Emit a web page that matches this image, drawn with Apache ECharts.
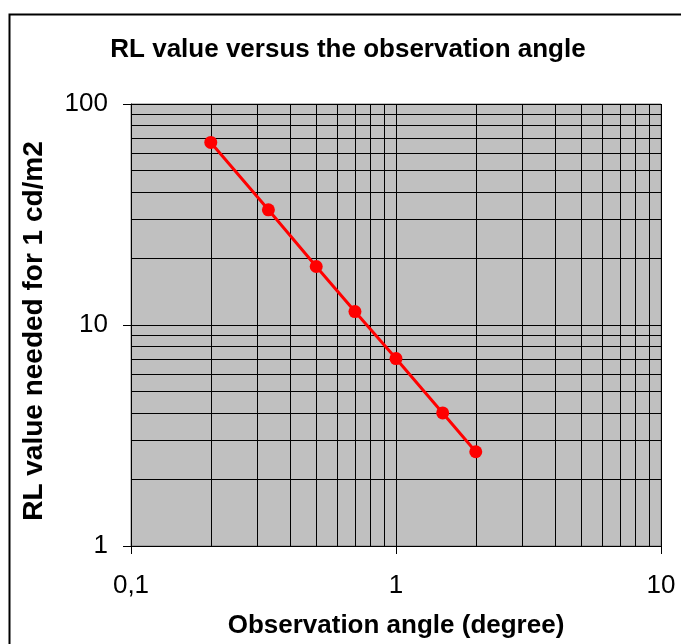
<!DOCTYPE html>
<html>
<head>
<meta charset="utf-8">
<script src="https://cdn.jsdelivr.net/npm/echarts@6/dist/echarts.min.js"></script>
<style>html,body{margin:0;padding:0;background:#fff}#c{width:681px;height:644px}</style>
</head>
<body>
<div id="c"></div>
<script>
// Data
var angles = [0.2, 0.33, 0.5, 0.7, 1, 1.5, 2];
var rlValues = [67, 33.2, 18.4, 11.5, 7.05, 4.0, 2.67];
var xTickLabels = {"-1": "0,1", "0": "1", "1": "10"};
var yTickLabels = {"0": "1", "1": "10", "2": "100"};
var xMinorGrid = [0.2, 0.3, 0.4, 0.5, 0.6, 0.7, 0.8, 0.9, 2, 3, 4, 5, 6, 7, 8, 9];
var yMinorGrid = [2, 3, 4, 5, 6, 7, 8, 9, 20, 30, 40, 50, 60, 70, 80, 90];

var FONT = "'Liberation Sans', Arial, sans-serif";
var chart = echarts.init(document.getElementById('c'), null, {renderer: 'canvas'});

var pts = angles.map(function (a, i) { return [a, rlValues[i]]; });
var gridLines = xMinorGrid.map(function (v) { return {xAxis: v}; })
  .concat(yMinorGrid.map(function (v) { return {yAxis: v}; }));

function lab(map) {
  return function (v) {
    var k = String(Math.round(Math.log(v) / Math.LN10));
    return map[k] !== undefined ? map[k] : '';
  };
}

chart.setOption({
  animation: false,
  backgroundColor: '#fff',
  title: {
    text: 'RL value versus the observation angle',
    left: 343, top: 32, textAlign: 'center',
    textStyle: {fontFamily: FONT, fontSize: 26, fontWeight: 'bold', color: '#000'}
  },
  graphic: [{
    type: 'rect', left: 7, top: 12, silent: true, z: 100,
    shape: {width: 720, height: 700},
    style: {fill: 'none', stroke: '#000', lineWidth: 2}
  }],
  grid: {
    left: 131, top: 104, right: 20, bottom: 97,
    show: true, backgroundColor: '#c0c0c0', borderColor: '#808080', borderWidth: 1
  },
  xAxis: {
    type: 'log', logBase: 10, min: 0.1, max: 10,
    name: 'Observation angle (degree)', nameLocation: 'middle', nameGap: 67,
    nameTextStyle: {fontFamily: FONT, fontSize: 26, fontWeight: 'bold', color: '#000'},
    axisLine: {show: true, lineStyle: {color: '#000', width: 1}},
    axisTick: {show: true, inside: false, length: 8, lineStyle: {color: '#000'}},
    axisLabel: {fontFamily: FONT, fontSize: 26, color: '#000', margin: 27, formatter: lab(xTickLabels)},
    splitLine: {show: true, lineStyle: {color: '#000', width: 1}},
    minorTick: {show: false}, minorSplitLine: {show: false}
  },
  yAxis: {
    type: 'log', logBase: 10, min: 1, max: 100,
    name: 'RL value needed for 1 cd/m2', nameLocation: 'middle', nameGap: 83,
    nameTextStyle: {fontFamily: FONT, fontSize: 28, fontWeight: 'bold', color: '#000', padding: [0, 12, 0, 0]},
    axisLine: {show: true, lineStyle: {color: '#000', width: 1}},
    axisTick: {show: true, inside: false, length: 8, lineStyle: {color: '#000'}},
    axisLabel: {fontFamily: FONT, fontSize: 26, color: '#000', margin: 23, formatter: lab(yTickLabels)},
    splitLine: {show: true, lineStyle: {color: '#000', width: 1}},
    minorTick: {show: false}, minorSplitLine: {show: false}
  },
  series: [{
    type: 'line', data: [], z: 1, silent: true,
    markLine: {
      silent: true, symbol: ['none', 'none'], animation: false,
      label: {show: false}, emphasis: {disabled: true},
      lineStyle: {color: '#000', width: 1, type: 'solid', opacity: 1},
      data: gridLines
    }
  }, {
    type: 'line', data: pts, z: 5,
    symbol: 'circle', symbolSize: 13, showSymbol: true,
    lineStyle: {color: '#ff0000', width: 3},
    itemStyle: {color: '#ff0000'}
  }]
});
</script>
</body>
</html>
